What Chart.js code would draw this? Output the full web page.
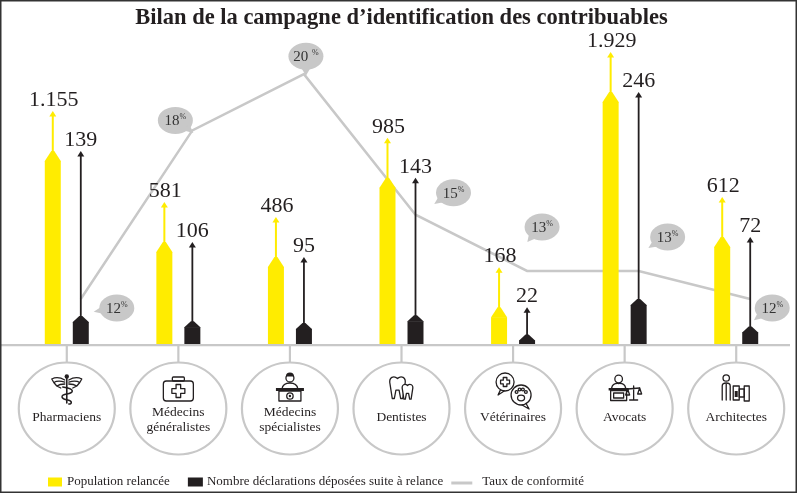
<!DOCTYPE html>
<html><head><meta charset="utf-8">
<script src="https://cdn.jsdelivr.net/npm/chart.js@4/dist/chart.umd.min.js"></script>
<style>html,body{margin:0;padding:0;background:#fff}#wrap{width:800px;height:494px}</style>
</head><body><div id="wrap"><canvas id="c" width="800" height="494"></canvas></div>
<script>
// ---- data ----
const categories = [['Pharmaciens'], ['Médecins','généralistes'], ['Médecins','spécialistes'], ['Dentistes'], ['Vétérinaires'], ['Avocats'], ['Architectes']];
const populationRelancee = [1155, 581, 486, 985, 168, 1929, 612];
const declarationsDeposees = [139, 106, 95, 143, 22, 246, 72];
const tauxConformite = [12, 18, 20, 15, 13, 13, 12];
const seriesNames = ['Population relancée', 'Nombre déclarations déposées suite à relance', 'Taux de conformité'];
const titleText = 'Bilan de la campagne d’identification des contribuables';

// ---- styles ----
const YELLOW = '#FFEC00', BLACK = '#231F20', GREY = '#C8C8C8', TEXT = '#231F20';
const SERIF = '"Liberation Serif", "Times New Roman", serif';
const LINE_SHIFT = 14;
// bubble placement relative to each line point: [dx, dy, tail angle in degrees]
const bubbleStyle = [[36,9,169],[-17,-10,40],[2,-18,90],[38,-22,145],[15,-44,129],[29,-34,145],[22,9,141]];

function fmtThousands(v){ return String(v).replace(/\B(?=(\d{3})+(?!\d))/g,'.'); }

// Infographic-style axis: linear up to a knee, compressed above it
class CappedScale extends Chart.LinearScale {
  _fwd(v){ const k=this.options.knee ?? 1200, r=this.options.ratio ?? 0.45; return v<=k ? v : k+(v-k)*r; }
  _inv(u){ const k=this.options.knee ?? 1200, r=this.options.ratio ?? 0.45; return u<=k ? u : k+(u-k)/r; }
  getPixelForValue(value){
    if (value === null || value === undefined || isNaN(value)) return NaN;
    const a=this._fwd(this.min), b=this._fwd(this.max);
    return this.getPixelForDecimal((this._fwd(value)-a)/(b-a));
  }
  getValueForPixel(pixel){
    const a=this._fwd(this.min), b=this._fwd(this.max);
    return this._inv(a + this.getDecimalForPixel(pixel)*(b-a));
  }
}
CappedScale.id = 'capped';
CappedScale.defaults = Chart.LinearScale.defaults;
Chart.register(CappedScale);

function arrowHead(ctx, x, tipY, color){
  ctx.fillStyle = color;
  ctx.beginPath(); ctx.moveTo(x, tipY); ctx.lineTo(x-3.5, tipY+5.5); ctx.lineTo(x+3.5, tipY+5.5); ctx.closePath(); ctx.fill();
}

function drawBubble(ctx, cx, cy, angDeg, value){
  const rx=17.5, ry=13.5, a=angDeg*Math.PI/180;
  ctx.fillStyle = GREY;
  ctx.beginPath(); ctx.ellipse(cx, cy, rx, ry, 0, 0, Math.PI*2); ctx.fill();
  ctx.beginPath();
  ctx.moveTo(cx + Math.cos(a-0.35)*rx*0.85, cy + Math.sin(a-0.35)*ry*0.85);
  ctx.lineTo(cx + Math.cos(a)*(rx+6), cy + Math.sin(a)*(ry+6));
  ctx.lineTo(cx + Math.cos(a+0.35)*rx*0.85, cy + Math.sin(a+0.35)*ry*0.85);
  ctx.closePath(); ctx.fill();
  const num = String(value) + (value===20 ? ' ' : '');
  ctx.fillStyle = '#333';
  ctx.font = '15px ' + SERIF;
  const w1 = ctx.measureText(num).width;
  ctx.font = '8px ' + SERIF;
  const w2 = ctx.measureText('%').width;
  const x0 = cx - (w1+w2)/2;
  ctx.textAlign='left'; ctx.textBaseline='alphabetic';
  ctx.font = '15px ' + SERIF; ctx.fillText(num, x0, cy+5);
  ctx.font = '8px ' + SERIF; ctx.fillText('%', x0+w1, cy-1);
}

function cross(ctx, x, y, t, l){
  ctx.beginPath();
  ctx.moveTo(x-t,y-l); ctx.lineTo(x+t,y-l); ctx.lineTo(x+t,y-t); ctx.lineTo(x+l,y-t); ctx.lineTo(x+l,y+t);
  ctx.lineTo(x+t,y+t); ctx.lineTo(x+t,y+l); ctx.lineTo(x-t,y+l); ctx.lineTo(x-t,y+t); ctx.lineTo(x-l,y+t);
  ctx.lineTo(x-l,y-t); ctx.lineTo(x-t,y-t); ctx.closePath(); ctx.stroke();
}

function drawIcon(ctx, i, cx, cy){
  ctx.save();
  ctx.strokeStyle = BLACK; ctx.fillStyle = BLACK; ctx.lineWidth = 1.3; ctx.lineJoin='round'; ctx.lineCap='round';
  if (i===0){
    ctx.lineWidth = 1.6;
    ctx.beginPath(); ctx.moveTo(cx, cy-11); ctx.lineTo(cx, cy+14); ctx.stroke();
    ctx.beginPath(); ctx.arc(cx, cy-12.5, 2.2, 0, Math.PI*2); ctx.fill();
    ctx.lineWidth = 1.3;
    [-1, 1].forEach(s => {
      ctx.beginPath();
      ctx.moveTo(cx+s*2, cy-9); ctx.quadraticCurveTo(cx+s*9, cy-13, cx+s*15, cy-10);
      ctx.moveTo(cx+s*2, cy-7); ctx.quadraticCurveTo(cx+s*9, cy-9, cx+s*13, cy-6.5);
      ctx.moveTo(cx+s*2, cy-5); ctx.quadraticCurveTo(cx+s*7, cy-5, cx+s*10, cy-3);
      ctx.moveTo(cx+s*15, cy-10); ctx.lineTo(cx+s*13, cy-6.5); ctx.lineTo(cx+s*10, cy-3); ctx.lineTo(cx+s*6, cy-1);
      ctx.stroke();
    });
    ctx.lineWidth = 1.5;
    ctx.beginPath();
    ctx.moveTo(cx-4, cy-2); ctx.bezierCurveTo(cx+9, cy, cx+7, cy+4, cx, cy+5);
    ctx.bezierCurveTo(cx-7, cy+6, cx-6, cy+10, cx+1, cy+11); ctx.bezierCurveTo(cx+6, cy+12, cx+5, cy+15, cx+2, cy+15);
    ctx.stroke();
  } else if (i===1){
    ctx.beginPath(); ctx.roundRect(cx-15, cy-8, 30, 20, 3); ctx.stroke();
    ctx.beginPath(); ctx.roundRect(cx-6, cy-12, 12, 4, 1); ctx.stroke();
    cross(ctx, cx, cy+2, 2.3, 6.5);
  } else if (i===2){
    ctx.beginPath(); ctx.arc(cx, cy-11, 4, 0, Math.PI*2); ctx.stroke();
    ctx.beginPath(); ctx.arc(cx, cy-12.5, 4, Math.PI, 0); ctx.fill();
    ctx.beginPath(); ctx.moveTo(cx-8, cy); ctx.quadraticCurveTo(cx-7, cy-6, cx, cy-6); ctx.quadraticCurveTo(cx+7, cy-6, cx+8, cy); ctx.stroke();
    ctx.fillRect(cx-14, cy-1, 28, 3);
    ctx.beginPath(); ctx.rect(cx-11, cy+2, 22, 10); ctx.stroke();
    ctx.beginPath(); ctx.arc(cx, cy+7, 3.2, 0, Math.PI*2); ctx.stroke();
    ctx.beginPath(); ctx.arc(cx, cy+7, 1.2, 0, Math.PI*2); ctx.fill();
  } else if (i===3){
    const tooth = (x, y, s) => {
      ctx.beginPath();
      ctx.moveTo(x-7*s, y-3*s);
      ctx.bezierCurveTo(x-9*s, y-11*s, x-3*s, y-12*s, x, y-9*s);
      ctx.bezierCurveTo(x+3*s, y-12*s, x+9*s, y-11*s, x+7*s, y-3*s);
      ctx.lineTo(x+5*s, y+10*s); ctx.lineTo(x+3*s, y+10*s); ctx.lineTo(x+1.5*s, y+2*s);
      ctx.lineTo(x-1.5*s, y+2*s); ctx.lineTo(x-3*s, y+10*s); ctx.lineTo(x-5*s, y+10*s); ctx.closePath();
      ctx.fillStyle='#fff'; ctx.fill(); ctx.stroke();
    };
    tooth(cx-4, cy-1, 1.05); tooth(cx+6, cy+3, 0.72);
  } else if (i===4){
    const bub = (x, y, r, tx, ty) => {
      ctx.beginPath(); ctx.arc(x, y, r, 0, Math.PI*2); ctx.fillStyle='#fff'; ctx.fill(); ctx.stroke();
      ctx.beginPath(); ctx.moveTo(x+(tx>0?r*0.5:-r*0.5), y+r*0.85); ctx.lineTo(x+tx, y+ty); ctx.lineTo(x+(tx>0?r*0.1:-r*0.1), y+r); ctx.stroke();
    };
    bub(cx-8, cy-7, 9, -7, 13);
    bub(cx+8, cy+6, 10, 8, 14);
    cross(ctx, cx-8, cy-7, 1.8, 4.5);
    ctx.beginPath(); ctx.ellipse(cx+8, cy+9, 3.5, 2.8, 0, 0, Math.PI*2); ctx.stroke();
    [[-4.5,3],[-1.5,0.5],[1.8,0.5],[4.8,3]].forEach(p=>{ ctx.beginPath(); ctx.arc(cx+8+p[0], cy+p[1], 1.4, 0, Math.PI*2); ctx.stroke(); });
  } else if (i===5){
    ctx.beginPath(); ctx.arc(cx-6, cy-10, 3.8, 0, Math.PI*2); ctx.stroke();
    ctx.beginPath(); ctx.moveTo(cx-13, cy-1); ctx.quadraticCurveTo(cx-12, cy-6, cx-6, cy-5.5); ctx.quadraticCurveTo(cx, cy-6, cx+1, cy-1); ctx.stroke();
    ctx.fillRect(cx-16, cy-1, 20, 2.5);
    ctx.beginPath(); ctx.rect(cx-14, cy+1.5, 16, 10); ctx.stroke();
    ctx.beginPath(); ctx.rect(cx-11, cy+4, 10, 5); ctx.stroke();
    ctx.beginPath(); ctx.moveTo(cx+9, cy-3); ctx.lineTo(cx+9, cy+11); ctx.moveTo(cx+5, cy+11); ctx.lineTo(cx+13, cy+11);
    ctx.moveTo(cx+3, cy); ctx.lineTo(cx+15, cy-1); ctx.stroke();
    ctx.beginPath(); ctx.moveTo(cx+1, cy+6); ctx.lineTo(cx+3, cy); ctx.lineTo(cx+5, cy+6); ctx.closePath(); ctx.stroke();
    ctx.beginPath(); ctx.moveTo(cx+13, cy+5); ctx.lineTo(cx+15, cy-1); ctx.lineTo(cx+17, cy+5); ctx.closePath(); ctx.stroke();
  } else if (i===6){
    ctx.beginPath(); ctx.arc(cx-10, cy-11, 3.2, 0, Math.PI*2); ctx.stroke();
    ctx.beginPath(); ctx.moveTo(cx-14, cy+11); ctx.lineTo(cx-14, cy-3); ctx.quadraticCurveTo(cx-14, cy-6, cx-10, cy-6); ctx.quadraticCurveTo(cx-6, cy-6, cx-6, cy-3); ctx.lineTo(cx-6, cy+11); ctx.stroke();
    ctx.beginPath(); ctx.moveTo(cx-10, cy-5); ctx.lineTo(cx-10, cy+11); ctx.stroke();
    ctx.beginPath(); ctx.rect(cx-3, cy-3, 6, 14); ctx.stroke();
    ctx.beginPath(); ctx.rect(cx+3, cy, 5, 8); ctx.stroke();
    ctx.beginPath(); ctx.rect(cx+8, cy-3, 5, 15); ctx.stroke();
    ctx.fillRect(cx-1.5, cy+2, 3, 6);
  }
  ctx.restore();
}

const decor = {
  id: 'decor',
  beforeDatasetsDraw(chart){
    const {ctx, chartArea:a} = chart;
    ctx.save(); ctx.strokeStyle = GREY; ctx.lineWidth = 2.2;
    ctx.beginPath(); ctx.moveTo(0, a.bottom+1.2); ctx.lineTo(790, a.bottom+1.2); ctx.stroke();
    ctx.restore();
  },
  beforeDatasetDraw(chart, args){ if (args.meta.type === 'line'){ chart.ctx.save(); chart.ctx.translate(LINE_SHIFT, 0); } },
  afterDatasetDraw(chart, args){ if (args.meta.type === 'line'){ chart.ctx.restore(); } },
  afterDatasetsDraw(chart){
    const ctx = chart.ctx;
    ctx.save();
    const yellowTips = [];
    // yellow bars: pointed top, thin arrow, value
    chart.getDatasetMeta(1).data.forEach((el, i) => {
      const {x, y, width:w} = el.getProps(['x','y','width'], true);
      ctx.fillStyle = YELLOW;
      ctx.beginPath(); ctx.moveTo(x-w/2, y+0.5); ctx.lineTo(x-w/2, y); ctx.lineTo(x-1.5, y-10); ctx.lineTo(x+1.5, y-10); ctx.lineTo(x+w/2, y); ctx.lineTo(x+w/2, y+0.5); ctx.closePath(); ctx.fill();
      yellowTips[i] = y - 10;
      const tip = y - 50;
      ctx.fillRect(x-1, tip+4, 2, 40);
      arrowHead(ctx, x, tip, YELLOW);
      ctx.fillStyle = TEXT; ctx.font = '22px ' + SERIF; ctx.textAlign='center'; ctx.textBaseline='alphabetic';
      ctx.fillText(fmtThousands(populationRelancee[i]), x+1, tip-5);
    });
    // black bars: pointed top, long arrow up to the yellow bar's height, value
    chart.getDatasetMeta(2).data.forEach((el, i) => {
      const {x, y, width:w} = el.getProps(['x','y','width'], true);
      ctx.fillStyle = BLACK;
      ctx.beginPath(); ctx.moveTo(x-w/2, y+0.5); ctx.lineTo(x-w/2, y); ctx.lineTo(x-1.5, y-6); ctx.lineTo(x+1.5, y-6); ctx.lineTo(x+w/2, y); ctx.lineTo(x+w/2, y+0.5); ctx.closePath(); ctx.fill();
      const tip = yellowTips[i];
      ctx.fillRect(x-0.9, tip+4, 1.8, (y-6) - (tip+4) + 1);
      arrowHead(ctx, x, tip, BLACK);
      ctx.fillStyle = TEXT; ctx.font = '22px ' + SERIF; ctx.textAlign='center'; ctx.textBaseline='alphabetic';
      ctx.fillText(fmtThousands(declarationsDeposees[i]), x, tip-5);
    });
    // percentage bubbles
    chart.getDatasetMeta(0).data.forEach((el, i) => {
      const s = bubbleStyle[i];
      drawBubble(ctx, el.x + LINE_SHIFT + s[0], el.y + s[1], s[2], tauxConformite[i]);
    });
    ctx.restore();
  },
  afterDraw(chart){
    const ctx = chart.ctx, xs = chart.scales.x, a = chart.chartArea;
    ctx.save();
    categories.forEach((lines, i) => {
      const cx = xs.getPixelForValue(i), cy = 408.5;
      ctx.strokeStyle = GREY; ctx.lineWidth = 2.2;
      ctx.beginPath(); ctx.moveTo(cx, a.bottom+1); ctx.lineTo(cx, cy-46); ctx.stroke();
      ctx.beginPath(); ctx.ellipse(cx, cy, 48, 46, 0, 0, Math.PI*2); ctx.stroke();
      drawIcon(ctx, i, cx, 389);
      ctx.fillStyle = TEXT; ctx.font = '13.5px ' + SERIF; ctx.textAlign='center'; ctx.textBaseline='middle';
      if (lines.length === 1) ctx.fillText(lines[0], cx, 417);
      else { ctx.fillText(lines[0], cx, 412); ctx.fillText(lines[1], cx, 427); }
    });
    // legend
    ctx.font = '13px ' + SERIF; ctx.textAlign='left'; ctx.textBaseline='middle';
    const ly = 482;
    let x = 48;
    ctx.fillStyle = YELLOW; ctx.fillRect(x, ly-4.5, 14, 9); x += 19;
    ctx.fillStyle = TEXT; ctx.fillText(seriesNames[0], x, ly); x += ctx.measureText(seriesNames[0]).width + 18;
    ctx.fillStyle = BLACK; ctx.fillRect(x, ly-4.5, 15, 9); x += 19;
    ctx.fillStyle = TEXT; ctx.fillText(seriesNames[1], x, ly); x += ctx.measureText(seriesNames[1]).width + 8;
    ctx.strokeStyle = GREY; ctx.lineWidth = 3; ctx.beginPath(); ctx.moveTo(x, ly+1); ctx.lineTo(x+21, ly+1); ctx.stroke(); x += 31;
    ctx.fillStyle = TEXT; ctx.fillText(seriesNames[2], x, ly);
    // frame
    ctx.strokeStyle = '#333'; ctx.lineWidth = 1.5;
    ctx.strokeRect(0.75, 0.75, 795.5, 491.5);
    ctx.restore();
  }
};

new Chart(document.getElementById('c'), {
  type: 'bar',
  data: {
    labels: categories.map(c => c.join(' ')),
    datasets: [
      { type:'line', label: seriesNames[2], data: tauxConformite, yAxisID:'yRate', borderColor: GREY, borderWidth: 2.5, pointRadius: 0, tension: 0, order: 3, fill:false },
      { label: seriesNames[0], data: populationRelancee, yAxisID:'yPop', backgroundColor: YELLOW, borderWidth: 0, barPercentage: 0.571, categoryPercentage: 0.502, order: 1 },
      { label: seriesNames[1], data: declarationsDeposees, yAxisID:'yPop', backgroundColor: BLACK, borderWidth: 0, barPercentage: 0.571, categoryPercentage: 0.502, order: 2 }
    ]
  },
  options: {
    responsive: false, animation: false, devicePixelRatio: 1,
    layout: { padding: { left: 11, right: 8, top: 0, bottom: 150 } },
    plugins: {
      legend: { display: false }, tooltip: { enabled: false },
      title: { display: true, text: titleText, color: TEXT, font: { family: SERIF, size: 22.5, weight: 'bold' }, padding: { top: 5, bottom: 2 } }
    },
    scales: {
      x: { display: false, offset: true, grid: { display: false } },
      yPop: { type: 'capped', display: false, min: 0, max: 2890, knee: 1200, ratio: 0.447 },
      yRate: { type: 'linear', display: false, min: 10.4, max: 21.43 }
    }
  },
  plugins: [decor]
});
</script>
</body></html>
